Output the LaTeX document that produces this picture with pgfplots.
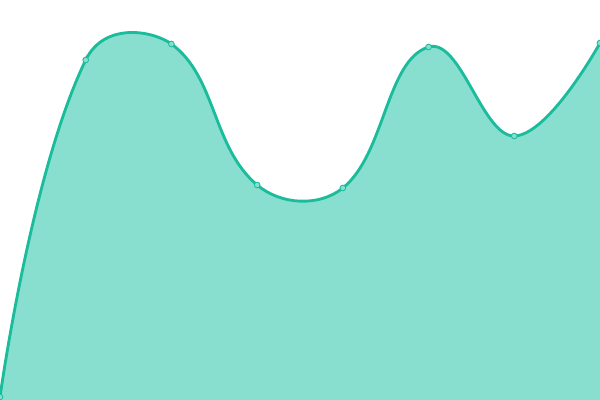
\documentclass[border=0pt]{standalone}
\usepackage{pgfplots}
\pgfplotsset{compat=1.18}
\definecolor{teal1}{HTML}{1ABC9C}
\definecolor{tealfill}{HTML}{89DFCF}
% one hidden axis per segment, so each segment gets its own tension
\pgfplotsset{
  seg/.style={
    scale only axis, hide axis,
    width=61.2pt, height=280pt,
    xmin=#1-0.01, xmax=#1+1.01, ymin=0, ymax=400,
    at={({(#1-0.01)*60pt},0)}, anchor=south west,
  },
  segfill/.style={draw=none, fill=tealfill, smooth, tension=#1, mark=none},
  segline/.style={draw=teal1, line width=2pt, smooth, tension=#1, mark=none},
}
\begin{document}
\begin{tikzpicture}
\path[use as bounding box] (0,0) rectangle (420pt,280pt);
% segment 0
\begin{axis}[seg=0]
\addplot[segfill=1.15] coordinates {(0,3) (1,340) (2,356)} \closedcycle;
\addplot[segline=1.15] coordinates {(0,3) (1,340) (2,356)};
\end{axis}
% segment 1
\begin{axis}[seg=1]
\addplot[segfill=0.39] coordinates {(0,3) (1,340) (2,356) (3,215)} \closedcycle;
\addplot[segline=0.39] coordinates {(0,3) (1,340) (2,356) (3,215)};
\end{axis}
% segment 2
\begin{axis}[seg=2]
\addplot[segfill=0.95] coordinates {(1,340) (2,356) (3,215) (4,212)} \closedcycle;
\addplot[segline=0.95] coordinates {(1,340) (2,356) (3,215) (4,212)};
\end{axis}
% segment 3
\begin{axis}[seg=3]
\addplot[segfill=0.5] coordinates {(2,356) (3,215) (4,212) (5,353)} \closedcycle;
\addplot[segline=0.5] coordinates {(2,356) (3,215) (4,212) (5,353)};
\end{axis}
% segment 4
\begin{axis}[seg=4]
\addplot[segfill=0.89] coordinates {(3,215) (4,212) (5,353) (6,264)} \closedcycle;
\addplot[segline=0.89] coordinates {(3,215) (4,212) (5,353) (6,264)};
\end{axis}
% segment 5
\begin{axis}[seg=5]
\addplot[segfill=0.67] coordinates {(4,212) (5,353) (6,264) (7,357)} \closedcycle;
\addplot[segline=0.67] coordinates {(4,212) (5,353) (6,264) (7,357)};
\end{axis}
% segment 6
\begin{axis}[seg=6]
\addplot[segfill=0.73] coordinates {(5,353) (6,264) (7,357)} \closedcycle;
\addplot[segline=0.73] coordinates {(5,353) (6,264) (7,357)};
\end{axis}
% point markers
\begin{axis}[
  scale only axis, hide axis,
  width=420pt, height=280pt,
  xmin=0, xmax=7, ymin=0, ymax=400,
  at={(0,0)}, anchor=south west,
  clip marker paths=true,
]
\addplot[only marks, mark=*, mark size=2pt,
  mark options={fill=tealfill, draw=teal1, line width=0.6pt}]
  coordinates {(0,3) (1,340) (2,356) (3,215) (4,212) (5,353) (6,264) (7,357)};
\end{axis}
\end{tikzpicture}
\end{document}
